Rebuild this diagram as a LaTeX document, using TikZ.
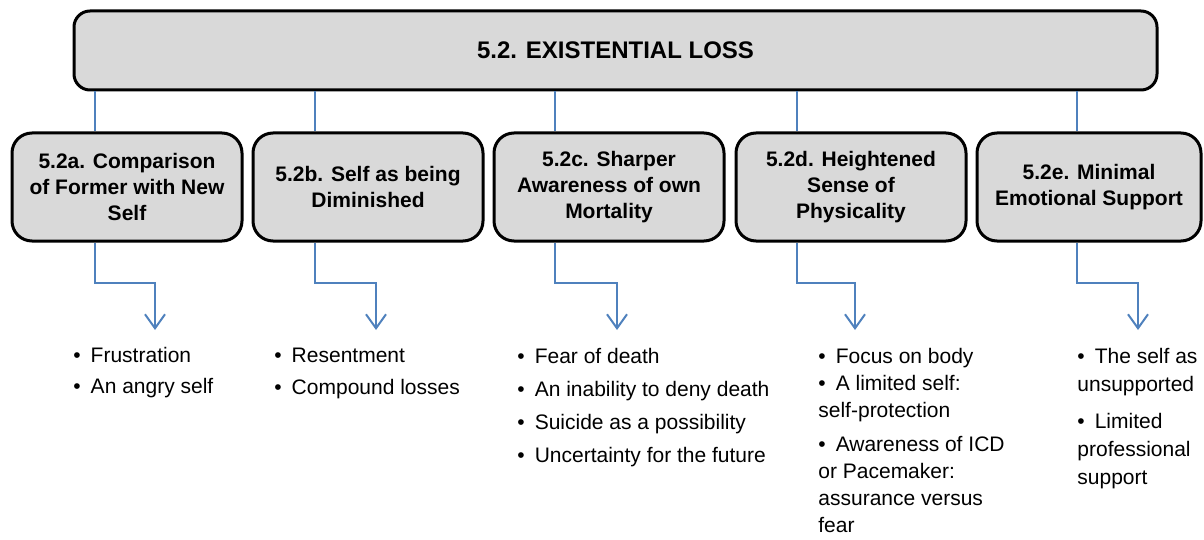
\documentclass[tikz,border=0pt]{standalone}
\usepackage{fontspec}
\setmainfont{Liberation Sans}
\usetikzlibrary{arrows.meta}
\definecolor{boxgray}{RGB}{217,217,217}
\definecolor{linkblue}{RGB}{79,129,189}
\newcommand{\itm}{\textbullet\hspace{5pt}}

\begin{document}
\begin{tikzpicture}[
    x=0.5pt, y=-0.5pt,
    every node/.style={font=\fontsize{10.5}{14}\selectfont},
    mainbox/.style={rectangle, draw, line width=1.5pt, rounded corners=8pt, fill=boxgray, minimum width=541.5pt, minimum height=39.5pt, font=\fontsize{12}{14}\selectfont\bfseries},
    theme/.style={rectangle, draw, line width=1.5pt, rounded corners=10pt, fill=boxgray, align=center, minimum width=115pt, minimum height=54pt, font=\fontsize{10.5}{13}\selectfont\bfseries},
    items/.style={anchor=north west, align=left, inner sep=0pt},
    link/.style={draw=linkblue, line width=1pt},
    down/.style={link, -{Straight Barb[length=7pt,width=10pt]}}
  ]
  \useasboundingbox (0,0) rectangle (1204,540);

  \node[mainbox] (loss) at (615.5,50.5) {5.2. EXISTENTIAL LOSS};

  \node[theme] (boxa) at (127,187) {5.2a. Comparison\\of Former with New\\Self};
  \node[theme] (boxb) at (368,187) {5.2b. Self as being\\Diminished};
  \node[theme] (boxc) at (609,187) {5.2c. Sharper\\Awareness of own\\Mortality};
  \node[theme] (boxd) at (851,187) {5.2d. Heightened\\Sense of\\Physicality};
  \node[theme, minimum width=112pt] (boxe) at (1089,187) {5.2e. Minimal\\Emotional Support};

  % bullet lists
  \node[items] (lista) at (73,347) {\itm Frustration\\[1.5pt]\itm An angry self};
  \node[items] (listb) at (274,348) {\itm Resentment\\[2pt]\itm Compound losses};
  \node[items] (listc) at (517,348) {\itm Fear of death\\[2.5pt]\itm An inability to deny death\\[2.5pt]\itm Suicide as a possibility\\[2.5pt]\itm Uncertainty for the future};
  \node[items, font=\fontsize{10.5}{13.5}\selectfont] (listd) at (818,348) {\itm Focus on body\\\itm A limited self:\\self-protection\\[3.5pt]\itm Awareness of ICD\\or Pacemaker:\\assurance versus\\fear};
  \node[items] (liste) at (1077,348) {\itm The self as\\unsupported\\[4.5pt]\itm Limited\\professional\\support};

  % joints and arrow tips
  \coordinate (ja) at (95,0);
  \coordinate (jb) at (315,0);
  \coordinate (jc) at (555,0);
  \coordinate (jd) at (797,0);
  \coordinate (je) at (1077,0);
  \coordinate (ta) at (155,330);
  \coordinate (tb) at (376,330);
  \coordinate (tc) at (617,330);
  \coordinate (td) at (855,330);
  \coordinate (te) at (1138,330);

  \foreach \k in {a,b,c,d,e}{
    \draw[link] (loss.south -| j\k) -- (box\k.north -| j\k);
    \draw[down] (box\k.south -| j\k) -- ++(0,40) -| (t\k);
  }

\end{tikzpicture}
\end{document}
